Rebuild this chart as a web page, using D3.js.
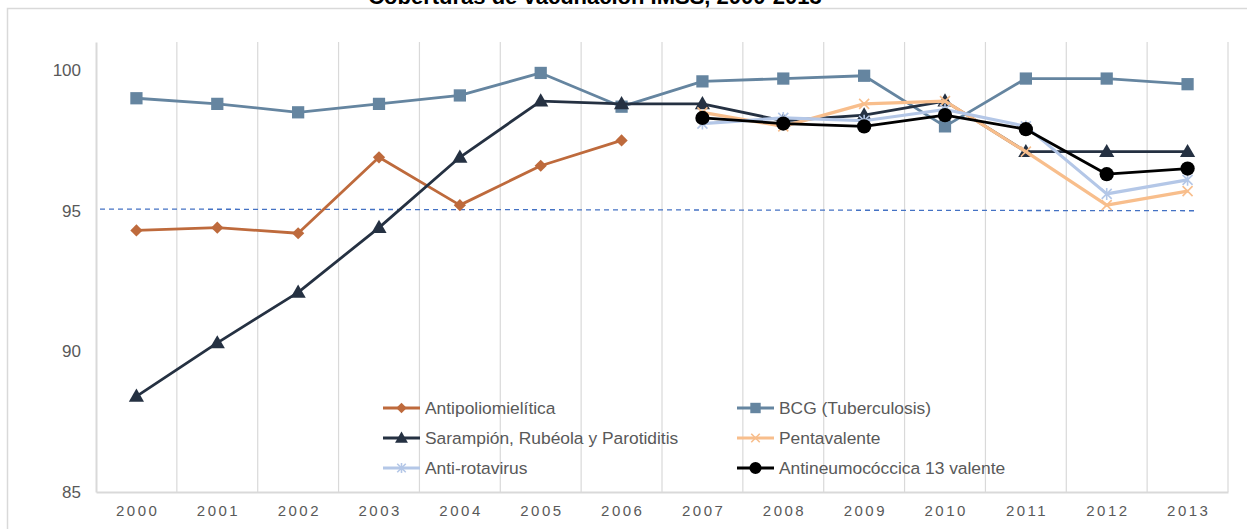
<!DOCTYPE html>
<html>
<head>
<meta charset="utf-8">
<script src="https://cdn.jsdelivr.net/npm/d3@7"></script>
<style>
  body { margin: 0; background: #fff; }
  #idsvg { width: 1247px; height: 529px; display: block; font-family: "Liberation Sans", Arial, sans-serif; }
</style>
</head>
<body>
<script>
// datos
const years = ['2000','2001','2002','2003','2004','2005','2006','2007','2008','2009','2010','2011','2012','2013'];
const yTicks = [85, 90, 95, 100];
const antipolio = [94.3, 94.4, 94.2, 96.9, 95.2, 96.6, 97.5, null, null, null, null, null, null, null];
const bcg = [99.0, 98.8, 98.5, 98.8, 99.1, 99.9, 98.7, 99.6, 99.7, 99.8, 98.0, 99.7, 99.7, 99.5];
const sarampion = [88.4, 90.3, 92.1, 94.4, 96.9, 98.9, 98.8, 98.8, 98.2, 98.4, 98.9, 97.1, 97.1, 97.1];
const pentavalente = [null, null, null, null, null, null, null, 98.5, 98.0, 98.8, 98.9, 97.1, 95.2, 95.7];
const rotavirus = [null, null, null, null, null, null, null, 98.1, 98.3, 98.2, 98.6, 98.0, 95.6, 96.1];
const neumococo = [null, null, null, null, null, null, null, 98.3, 98.1, 98.0, 98.4, 97.9, 96.3, 96.5];
const meta = [95.06, 95.0]; // línea punteada (inicio, fin)
const seriesNames = ['Antipoliomielítica', 'BCG (Tuberculosis)', 'Sarampión, Rubéola y Parotiditis',
  'Pentavalente', 'Anti-rotavirus', 'Antineumocóccica 13 valente'];

const series = [
  {name: seriesNames[0], values: antipolio, color: '#BE6A3C', marker: 'diamond', width: 2.8},
  {name: seriesNames[1], values: bcg, color: '#6585A0', marker: 'square', width: 2.8},
  {name: seriesNames[2], values: sarampion, color: '#253142', marker: 'triangle', width: 2.8},
  {name: seriesNames[3], values: pentavalente, color: '#F8BE8C', marker: 'x', width: 3.2},
  {name: seriesNames[4], values: rotavirus, color: '#B4C7E7', marker: 'asterisk', width: 3.2},
  {name: seriesNames[5], values: neumococo, color: '#000000', marker: 'circle', width: 2.8},
];

const svg = d3.select(document.body).append('svg').attr('id', 'idsvg');
const base = {left: 96, right: 1228, top: 42, bottom: 492};

base.x = d3.scaleBand().domain(years).range([base.left, base.right]);
base.y = d3.scaleLinear().domain([85, 101]).range([base.bottom, base.top]);

drawFrame();
drawGrid();
drawMeta();
drawSeries();
drawLegend();

function drawFrame(){
  svg.append('rect')
    .attr('x', 7.5).attr('y', 8.5).attr('width', 1260).attr('height', 540)
    .attr('fill', 'none').attr('stroke', '#d9d9d9').attr('stroke-width', 1.5);
  // título recortado arriba, como en la imagen original
  svg.append('text')
    .attr('x', 595).attr('y', 4)
    .attr('text-anchor', 'middle')
    .attr('font-size', 22).attr('font-weight', 'bold').attr('fill', '#000')
    .text('Coberturas de vacunación IMSS, 2000-2013');
}

function drawGrid(){
  // líneas verticales entre categorías
  const bounds = years.map(d => base.x(d)).concat([base.x.range()[1]]);
  svg.append('g').selectAll('line').data(bounds.slice(1)).join('line')
    .attr('x1', d => d).attr('x2', d => d)
    .attr('y1', base.top).attr('y2', base.bottom)
    .attr('stroke', '#d9d9d9').attr('stroke-width', 1.2);

  const yAxis = d3.axisLeft(base.y).tickValues(yTicks).tickSize(0).tickPadding(15);
  const gy = svg.append('g').attr('transform', `translate(${base.left},0)`).call(yAxis);
  gy.select('.domain').attr('stroke', '#d9d9d9').attr('stroke-width', 2);
  gy.selectAll('text').attr('font-size', 17).attr('fill', '#595959')
    .attr('font-family', '"Liberation Sans", Arial, sans-serif');

  const xAxis = d3.axisBottom(base.x).tickSize(0).tickPadding(13);
  const gx = svg.append('g').attr('transform', `translate(0,${base.bottom})`).call(xAxis);
  gx.select('.domain').attr('stroke', '#d9d9d9').attr('stroke-width', 2);
  gx.selectAll('text').attr('font-size', 15).attr('fill', '#595959')
    .attr('letter-spacing', 2.5).attr('dx', 1.2)
    .attr('font-family', '"Liberation Sans", Arial, sans-serif');
}

function drawMeta(){
  svg.append('line')
    .attr('x1', base.left + 4).attr('x2', base.x(years[years.length - 1]) + base.x.bandwidth() * 0.62)
    .attr('y1', base.y(meta[0])).attr('y2', base.y(meta[1]))
    .attr('stroke', '#4472C4').attr('stroke-width', 1.3).attr('stroke-dasharray', '5,4');
}

function markerPath(type, k){
  switch(type){
    case 'square': return d3.symbol(d3.symbolSquare, 150 * k * k)();
    case 'diamond': return d3.symbol(d3.symbolSquare, 75 * k * k)();
    case 'triangle': return d3.symbol(d3.symbolTriangle, 100 * k * k)();
    case 'circle': return d3.symbol(d3.symbolCircle, 160 * k * k)();
    case 'x': return `M${-5*k},${-5*k}L${5*k},${5*k}M${-5*k},${5*k}L${5*k},${-5*k}`;
    case 'asterisk': return `M${-5*k},${-5*k}L${5*k},${5*k}M${-5*k},${5*k}L${5*k},${-5*k}M0,${-6*k}L0,${6*k}`;
  }
}

function drawMarker(g, type, color, x, y, k = 1){
  const stroked = type === 'x' || type === 'asterisk';
  let tr = `translate(${x},${y})`;
  if (type === 'triangle') tr += ' translate(0,1)';
  if (type === 'diamond') tr += ' rotate(45)';
  const p = g.append('path').attr('d', markerPath(type, k)).attr('transform', tr);
  if (stroked) p.attr('fill', 'none').attr('stroke', color).attr('stroke-width', 1.6);
  else p.attr('fill', color);
}

function drawSeries(){
  const cx = d => base.x(d) + base.x.bandwidth() / 2;
  series.forEach(s => {
    const pts = years.map((yr, i) => ({yr, v: s.values[i]}));
    const line = d3.line()
      .defined(d => d.v != null)
      .x(d => cx(d.yr)).y(d => base.y(d.v));
    const g = svg.append('g');
    g.append('path').datum(pts).attr('d', line)
      .attr('fill', 'none').attr('stroke', s.color)
      .attr('stroke-width', s.width).attr('stroke-linejoin', 'round');
    pts.filter(d => d.v != null).forEach(d => drawMarker(g, s.marker, s.color, cx(d.yr), base.y(d.v)));
  });
}

function drawLegend(){
  const cols = [383, 737];
  const rows = [408, 438, 468];
  series.forEach((s, i) => {
    const x = cols[i % 2], y = rows[Math.floor(i / 2)];
    const g = svg.append('g');
    g.append('line').attr('x1', x).attr('x2', x + 37).attr('y1', y).attr('y2', y)
      .attr('stroke', s.color).attr('stroke-width', s.width);
    drawMarker(g, s.marker, s.color, x + 18.5, y, 0.85);
    g.append('text').attr('x', x + 42).attr('y', y + 6)
      .attr('font-size', 17.4).attr('fill', '#595959')
      .text(s.name);
  });
}
</script>
</body>
</html>
